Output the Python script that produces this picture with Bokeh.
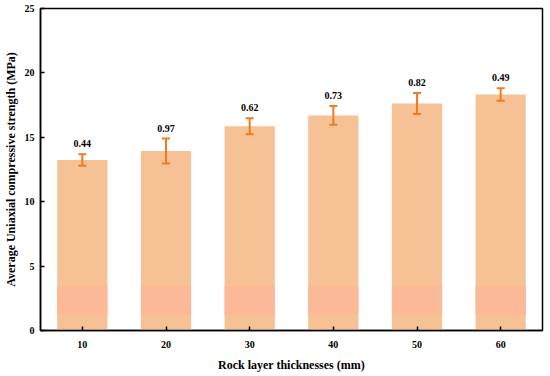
from bokeh.plotting import figure
from bokeh.models import ColumnDataSource, Whisker, TeeHead, FixedTicker, Range1d
from bokeh.core.properties import value
from bokeh.embed import file_html
from bokeh.resources import INLINE

thickness = [10, 20, 30, 40, 50, 60]
strength = [13.24, 13.93, 15.85, 16.70, 17.62, 18.32]
std_err = [0.44, 0.97, 0.62, 0.73, 0.82, 0.49]
err_labels = ["0.44", "0.97", "0.62", "0.73", "0.82", "0.49"]
y_ticks = [0, 5, 10, 15, 20, 25]
band_bottom = [1.2] * 6
band_top = [3.45] * 6

FONT = "Liberation Serif"

src = ColumnDataSource(dict(
    x=thickness, top=strength,
    upper=[s + e for s, e in zip(strength, std_err)],
    lower=[s - e for s, e in zip(strength, std_err)],
    lab=err_labels, bb=band_bottom, bt=band_top,
))

p = figure(width=548, height=374, output_backend="svg", toolbar_location=None,
           x_range=Range1d(5, 65), y_range=Range1d(0, 25),
           min_border_left=40, min_border_right=6, min_border_top=8, min_border_bottom=43)

p.vbar(x="x", top="top", bottom=0, width=6, source=src,
       fill_color="#F6C194", line_color=None)
p.vbar(x="x", top="bt", bottom="bb", width=6, source=src,
       fill_color="#FBB998", line_color=None)

w = Whisker(base="x", upper="upper", lower="lower", source=src, level="overlay",
            line_color="#F07C22", line_width=2,
            upper_head=TeeHead(size=8, line_color="#F07C22", line_width=2),
            lower_head=TeeHead(size=8, line_color="#F07C22", line_width=2))
p.add_layout(w)

p.text(x="x", y="upper", text="lab", source=src, text_align="center",
       text_baseline="bottom", y_offset=-7, text_font=value(FONT),
       text_font_style="bold", text_font_size="10px", text_color="black")

p.grid.visible = False
p.outline_line_color = "black"
p.outline_line_width = 1.5

p.xaxis.ticker = FixedTicker(ticks=thickness)
p.yaxis.ticker = FixedTicker(ticks=y_ticks)
for ax in (p.xaxis, p.yaxis):
    ax.axis_line_width = 1.5
    ax.major_tick_in = 4
    ax.major_tick_out = 0
    ax.minor_tick_in = 0
    ax.minor_tick_out = 0
    ax.major_tick_line_width = 1.5
    ax.major_label_text_font = FONT
    ax.major_label_text_font_style = "bold"
    ax.major_label_text_font_size = "10px"
    ax.major_label_text_color = "black"
    ax.axis_label_text_font = FONT
    ax.axis_label_text_font_style = "bold"
    ax.axis_label_text_font_size = "12px"
    ax.axis_label_text_color = "black"

p.xaxis.axis_label = "Rock layer thicknesses (mm)"
p.yaxis.axis_label = "Average Uniaxial compressive strength (MPa)"
p.xaxis.major_label_standoff = 10
p.xaxis.axis_label_standoff = 7
p.yaxis.major_label_standoff = 6
p.yaxis.axis_label_standoff = 4

open("out.html", "w").write(file_html(p, INLINE))
